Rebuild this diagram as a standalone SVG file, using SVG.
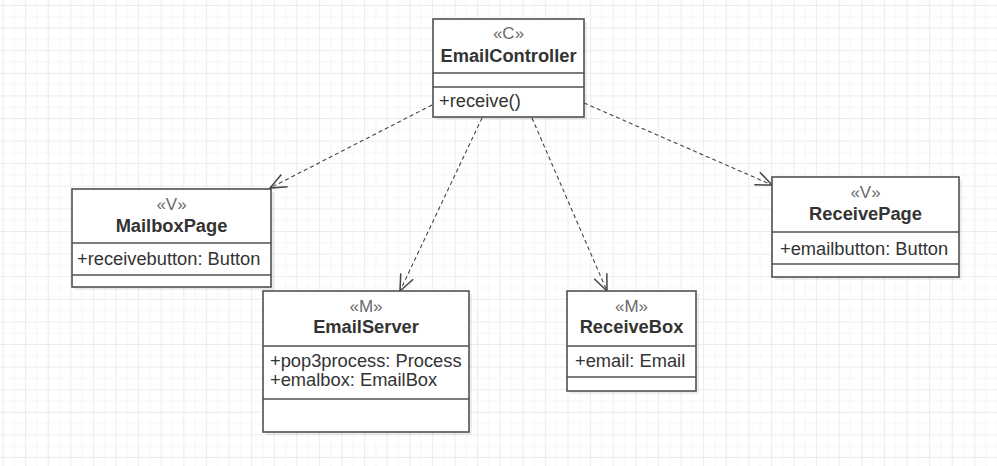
<svg xmlns="http://www.w3.org/2000/svg" width="997" height="466" viewBox="0 0 997 466">
<defs>
<pattern id="grid" patternUnits="userSpaceOnUse" x="2.5" y="5" width="22.6" height="22.6">
<path d="M0 0.5 H22.6 M0.5 0 V22.6" stroke="#ececec" stroke-width="1.2" fill="none"/>
<path d="M0 11.8 H22.6 M11.8 0 V22.6" stroke="#f6f6f6" stroke-width="1" fill="none"/>
</pattern>
<marker id="open" markerUnits="userSpaceOnUse" markerWidth="20" markerHeight="20" refX="0" refY="0" viewBox="-14 -8 16 16" orient="auto">
<path d="M-13 -5.5 L0 0 L-13 5.5" fill="none" stroke="#444" stroke-width="1.2"/>
</marker>
</defs>
<style>
.box{fill:#fff;stroke:#505050;stroke-width:1.6}
.shadow{fill:#000;opacity:0.07}
.div{stroke:#505050;stroke-width:1.4}
.st{font-family:"Liberation Sans",Arial,sans-serif;font-size:17px;fill:#6a6a6a;text-anchor:middle}
.nm{font-family:"Liberation Sans",Arial,sans-serif;font-size:18.3px;font-weight:bold;fill:#333;text-anchor:middle}
.tx{font-family:"Liberation Sans",Arial,sans-serif;font-size:18.3px;fill:#333}
.dep{fill:none;stroke:#444;stroke-width:1.1;stroke-dasharray:4 3;marker-end:url(#open)}
</style>
<rect width="997" height="466" fill="#fff"/>
<rect width="997" height="466" fill="url(#grid)"/>

<g id="connectors">
<path class="dep" d="M432 105 L270 188"/>
<path class="dep" d="M482 118 L400 291"/>
<path class="dep" d="M532 118 L607 291"/>
<path class="dep" d="M584 103 L772 185"/>
</g>

<g id="EmailController">
<rect class="shadow" x="436" y="22" width="151" height="98"/>
<rect class="box" x="433" y="19" width="151" height="98"/>
<text class="st" x="508.5" y="39">«C»</text>
<text class="nm" x="508.5" y="62">EmailController</text>
<line class="div" x1="433" y1="73" x2="584" y2="73"/>
<line class="div" x1="433" y1="87" x2="584" y2="87"/>
<text class="tx" x="439" y="107">+receive()</text>
</g>

<g id="MailboxPage">
<rect class="shadow" x="75" y="192" width="199" height="98"/>
<rect class="box" x="72" y="189" width="199" height="98"/>
<text class="st" x="171.5" y="210">«V»</text>
<text class="nm" x="171.5" y="232">MailboxPage</text>
<line class="div" x1="72" y1="243" x2="271" y2="243"/>
<text class="tx" x="77" y="265">+receivebutton: Button</text>
<line class="div" x1="72" y1="275" x2="271" y2="275"/>
</g>

<g id="EmailServer">
<rect class="shadow" x="266" y="294" width="206" height="141"/>
<rect class="box" x="263" y="291" width="206" height="141"/>
<text class="st" x="366" y="312">«M»</text>
<text class="nm" x="366" y="333">EmailServer</text>
<line class="div" x1="263" y1="346" x2="469" y2="346"/>
<text class="tx" x="270" y="367">+pop3process: Process</text>
<text class="tx" x="270" y="386">+emalbox: EmailBox</text>
<line class="div" x1="263" y1="399" x2="469" y2="399"/>
</g>

<g id="ReceiveBox">
<rect class="shadow" x="570" y="294" width="129" height="100"/>
<rect class="box" x="567" y="291" width="129" height="100"/>
<text class="st" x="631.5" y="312">«M»</text>
<text class="nm" x="631.5" y="333">ReceiveBox</text>
<line class="div" x1="567" y1="346" x2="696" y2="346"/>
<text class="tx" x="575" y="367">+email: Email</text>
<line class="div" x1="567" y1="377" x2="696" y2="377"/>
</g>

<g id="ReceivePage">
<rect class="shadow" x="775" y="180" width="187" height="100"/>
<rect class="box" x="772" y="177" width="187" height="100"/>
<text class="st" x="865.5" y="198">«V»</text>
<text class="nm" x="865.5" y="220">ReceivePage</text>
<line class="div" x1="772" y1="232" x2="959" y2="232"/>
<text class="tx" x="780" y="255">+emailbutton: Button</text>
<line class="div" x1="772" y1="264" x2="959" y2="264"/>
</g>
</svg>
